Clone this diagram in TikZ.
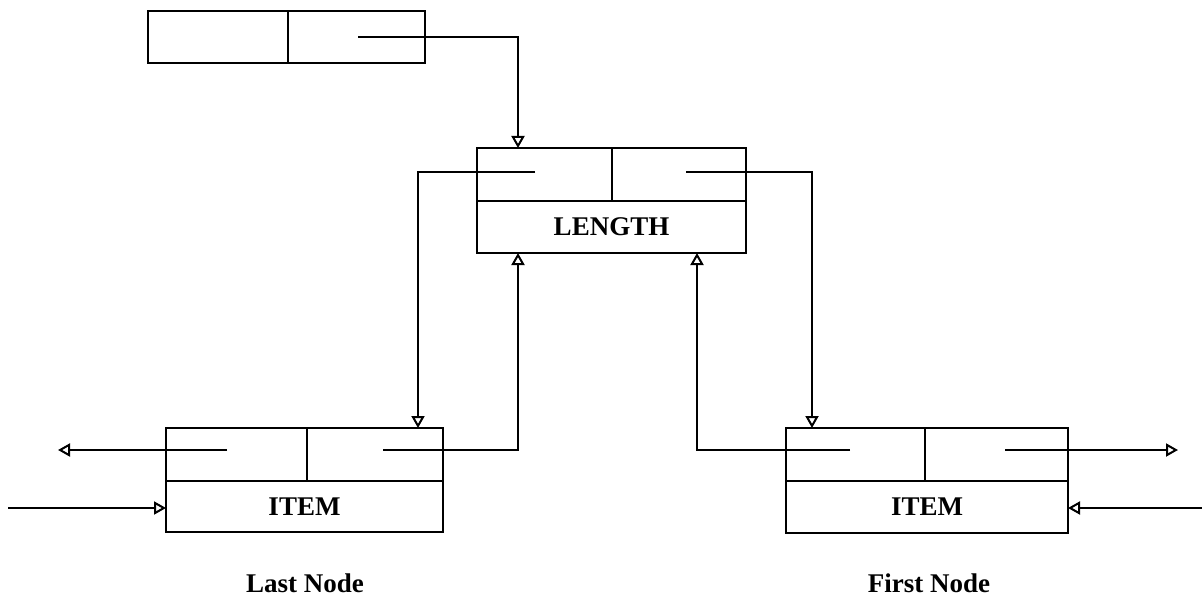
\documentclass[tikz,border=0pt]{standalone}
\usepackage{fontspec}
\setmainfont{Liberation Serif}
\usetikzlibrary{arrows.meta,calc}
\tikzset{
  cell/.style={draw, line width=2.5pt, inner sep=0pt, outer sep=0pt, anchor=north west, font=\fontsize{27}{30}\selectfont\bfseries},
  ptr/.style={line width=2.3pt, -{Triangle[open, length=12pt, width=13pt, line width=2pt]}},
  lbl/.style={anchor=base, font=\fontsize{27}{30}\selectfont\bfseries}
}
\begin{document}
\begin{tikzpicture}[x=1pt,y=-1pt]
\useasboundingbox (0,0) rectangle (1202,599);
% top header box
\node[cell, minimum width=140pt, minimum height=52pt] (ta) at (148,11) {};
\node[cell, minimum width=137pt, minimum height=52pt] (tb) at (288,11) {};
% LENGTH box
\node[cell, minimum width=135pt, minimum height=53pt] (la) at (477,148) {};
\node[cell, minimum width=134pt, minimum height=53pt] (lb) at (612,148) {};
\node[cell, minimum width=269pt, minimum height=52pt] (lc) at (477,201) {LENGTH};
% Last node
\node[cell, minimum width=141pt, minimum height=53pt] (na) at (166,428) {};
\node[cell, minimum width=136pt, minimum height=53pt] (nb) at (307,428) {};
\node[cell, minimum width=277pt, minimum height=51pt] (nc) at (166,481) {ITEM};
% First node
\node[cell, minimum width=139pt, minimum height=53pt] (fa) at (786,428) {};
\node[cell, minimum width=143pt, minimum height=53pt] (fb) at (925,428) {};
\node[cell, minimum width=282pt, minimum height=52pt] (fc) at (786,481) {ITEM};
% labels
\node[lbl] (lastlbl) at (305,592) {Last Node};
\node[lbl] (firstlbl) at (929,592) {First Node};
% pointer origins
\coordinate (p0) at (358,37);
\coordinate (p1) at (535,172);
\coordinate (p2) at (686,172);
\coordinate (p3) at (227,450);
\coordinate (p4) at (383,450);
\coordinate (p5) at (850,450);
\coordinate (p6) at (1005,450);
\coordinate (e3) at (58,450);
\coordinate (e6) at (1178,450);
\coordinate (s1) at (8,508);
\coordinate (s2) at (1202,508);
% connectors
\draw[ptr] (p0) -| ($(la.north west)+(41,0)$);
\draw[ptr] (p1) -| ($(nb.north west)+(111,0)$);
\draw[ptr] (p2) -| ($(fa.north west)+(26,0)$);
\draw[ptr] (p4) -| ($(lc.south west)+(41,0)$);
\draw[ptr] (p5) -| ($(lc.south west)+(220,0)$);
\draw[ptr] (p3) -- (e3);
\draw[ptr] (p6) -- (e6);
\draw[ptr] (s1) -- (nc.west |- s1);
\draw[ptr] (s2) -- (fc.east |- s2);
\end{tikzpicture}
\end{document}
